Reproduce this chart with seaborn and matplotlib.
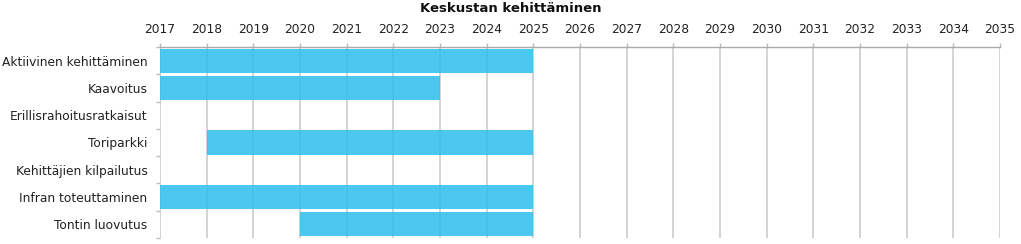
import matplotlib
matplotlib.use("Agg")
import matplotlib.pyplot as plt
import seaborn as sns
import pandas as pd
import numpy as np

title = "Keskustan kehittäminen"
tasks = ["Aktiivinen kehittäminen", "Kaavoitus", "Erillisrahoitusratkaisut",
         "Toriparkki", "Kehittäjien kilpailutus", "Infran toteuttaminen",
         "Tontin luovutus"]
starts = [2017, 2017, 2017, 2018, 2017, 2017, 2020]
ends = [2025, 2023, 2017, 2025, 2017, 2025, 2025]
years = list(range(2017, 2036))

df = pd.DataFrame({"task": tasks, "start": starts, "end": ends})
df["dur"] = df["end"] - df["start"]

sns.set_theme(style="white")
plt.rcParams["font.family"] = ["DejaVu Sans"]
text_color = "#222222"

fig = plt.figure(figsize=(10.21, 2.44), dpi=100)
ax = fig.add_axes([160 / 1021, 1 - 238 / 244, 840 / 1021, 191 / 244])

sns.barplot(data=df, y="task", x="dur", orient="h", order=tasks,
            color="#2CBEEE", saturation=1, errorbar=None, width=0.89,
            left=df["start"].to_numpy(), linewidth=0, alpha=0.85, ax=ax, zorder=2)

ax.set_xlim(years[0], years[-1])
ax.set_ylim(6.47, -0.47)
ax.set_xticks(years)
ax.set_xticklabels([str(y) for y in years])
ax.xaxis.tick_top()
ax.xaxis.set_label_position("top")
ax.set_xlabel("")
ax.set_ylabel("")
ax.tick_params(axis="x", which="major", length=3, width=1, color="#bbbbbb",
               pad=5, labelsize=8.8, labelcolor=text_color, top=True, bottom=False)
ax.tick_params(axis="y", which="major", length=0, pad=9, labelsize=8.8,
               labelcolor=text_color, left=False)
ax.set_yticks(np.arange(-0.5, 7.0, 1.0), minor=True)
ax.tick_params(axis="y", which="minor", length=3, width=1, color="#bbbbbb", left=True)

ax.set_axisbelow(True)
ax.grid(axis="x", color="#d0d0d0", linewidth=1.3, zorder=0)
ax.grid(axis="y", visible=False)
for s in ["left", "right", "bottom"]:
    ax.spines[s].set_visible(False)
ax.spines["top"].set_color("#aaaaaa")
ax.spines["top"].set_linewidth(1)

fig.text(0.5, 1 - 8 / 244, title, ha="center", va="center",
         fontsize=9.5, fontweight="bold", color="#111111")

fig.savefig("out.png", dpi=100, facecolor="white")
